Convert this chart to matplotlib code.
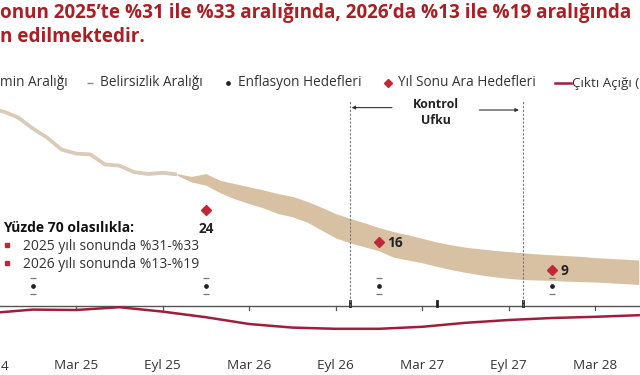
import numpy as np
import matplotlib
matplotlib.use("Agg")
import matplotlib.pyplot as plt
from matplotlib.lines import Line2D

plt.rcParams['font.family'] = ['Open Sans', 'DejaVu Sans']

# ---------------- DATA ----------------
# month index: 0 = Eyl 24 (Sep 2024)
hist_months = [0, 1, 2, 3, 4, 5, 6, 7, 8, 9, 10, 11, 12, 13]
hist_infl = [49.4, 48.6, 47.1, 44.4, 42.1, 39.1, 38.1, 37.9, 35.4, 35.1, 33.5, 33.0, 33.3, 32.9]

band_months = list(range(13, 46))
band_top = [33.1, 32.4, 33.1, 31.4, 30.6, 29.8, 29.0, 28.1, 27.4, 26.2, 24.7, 23.1,
            21.9, 20.8, 19.6, 18.6, 17.8, 16.9, 16.0, 15.3, 14.7, 14.3, 13.9, 13.6,
            13.3, 13.0, 12.8, 12.6, 12.4, 12.1, 11.9, 11.7, 11.5]
band_bot = [32.7, 31.0, 30.2, 28.3, 26.8, 25.6, 24.5, 23.1, 22.3, 21.0, 19.0, 17.0,
            15.8, 14.8, 13.8, 12.2, 11.5, 10.8, 9.9, 9.1, 8.4, 7.8, 7.3, 6.9,
            6.6, 6.5, 6.4, 6.2, 6.1, 6.0, 5.8, 5.6, 5.4]

target_months = [3, 15, 27, 39]
target_value = [5, 5, 5, 5]
target_low = [3, 3, 3, 3]
target_high = [7, 7, 7, 7]

interim_months = [15, 27, 39]
interim_values = [24, 16, 9]

gap_months = [0, 3, 6, 9, 12, 15, 18, 21, 24, 27, 30, 33, 36, 39, 42, 45]
output_gap = [-0.9, -0.45, -0.5, -0.15, -0.7, -1.4, -2.25, -2.7, -2.85, -2.85,
              -2.6, -2.1, -1.75, -1.5, -1.35, -1.15]

tick_months = [6, 12, 18, 24, 30, 36, 42]
tick_labels = ["Mar 25", "Eyl 25", "Mar 26", "Eyl 26", "Mar 27", "Eyl 27", "Mar 28"]
first_label_visible = "4"  # visible remainder of "Eyl 24" at the left edge
horizon_months = [25, 37]
horizon_mid = 31

# ---------------- STYLE ----------------
BAND = '#d7c1a2'
HIST = '#dacab7'
RED = '#c0283a'
GAP = '#a11d3b'
TITLE = '#a81f26'
TXT = '#333333'
LEG_FS = 9.8

W, H = 640, 375
fig = plt.figure(figsize=(6.4, 3.75), dpi=100)
ax = fig.add_axes([0, 30 / H, 1, 345 / H])
ax.set_xlim(0.735, 45.09)
ax.set_ylim(-9.75, 76.5)
for s in ax.spines.values():
    s.set_visible(False)
ax.set_yticks([])

# band and history
ax.fill_between(band_months, band_bot, band_top, color=BAND, lw=0, zorder=2)
ax.plot(hist_months, hist_infl, color=HIST, lw=2.7, zorder=2, solid_capstyle='butt')

# zero axis
ax.axhline(0, color='#555555', lw=1.0, zorder=3)
for m in tick_months:
    ax.plot([m, m], [0, -1.1], color='#555555', lw=0.9, zorder=3)
for m in horizon_months + [horizon_mid]:
    ax.plot([m, m], [0, 1.3], color='#222222', lw=2.0, zorder=3)

# control horizon
for m in horizon_months:
    ax.plot([m, m], [0, 51.2], color='#777777', lw=0.8, ls=(0, (2, 1.5)), zorder=3)
ax.text(horizon_mid - 0.05, 48.4, "Kontrol\nUfku", ha='center', va='center',
        fontsize=8.9, fontweight='bold', color='#222222', linespacing=1.25)
ax.annotate("", xy=(horizon_months[0] + 0.1, 49.6), xytext=(27.9, 49.6),
            arrowprops=dict(arrowstyle='-|>', color='#333333', lw=0.8,
                            mutation_scale=5, shrinkA=0, shrinkB=0))
ax.annotate("", xy=(horizon_months[1] - 0.3, 49.0), xytext=(33.95, 49.0),
            arrowprops=dict(arrowstyle='-|>', color='#333333', lw=0.8,
                            mutation_scale=5, shrinkA=0, shrinkB=0))

# targets
ax.plot(target_months, target_value, ls='none', marker='o', ms=2.4, color='#222222', zorder=4)
ax.plot(target_months, target_low, ls='none', marker='_', ms=4, mew=0.9, color='#777777', zorder=4)
ax.plot(target_months, target_high, ls='none', marker='_', ms=4, mew=0.9, color='#777777', zorder=4)

# interim targets
ax.plot(interim_months, interim_values, ls='none', marker='D', ms=4.6, color=RED, zorder=5)
ax.annotate(str(interim_values[0]), (interim_months[0], interim_values[0]),
            xytext=(0, -14), textcoords='offset points', ha='center', va='center',
            fontsize=9.8, fontweight='bold', color='#222222')
for m, v in zip(interim_months[1:], interim_values[1:]):
    ax.annotate(str(v), (m, v), xytext=(6.2, -1), textcoords='offset points',
                ha='left', va='center', fontsize=9.8, fontweight='bold', color='#222222')

# output gap on right axis
ax2 = ax.twinx()
ax2.set_ylim(-9.75 * 0.5, 76.5 * 0.5)
ax2.set_xlim(ax.get_xlim())
for s in ax2.spines.values():
    s.set_visible(False)
ax2.set_yticks([])
ax2.plot(gap_months, output_gap, color=GAP, lw=1.8, zorder=4)

# x tick labels
ax.set_xticks(tick_months)
ax.set_xticklabels(tick_labels)
ax.tick_params(axis='x', length=0, pad=10.3, labelsize=9.7, labelcolor=TXT)
ax.text(1 / W, 1 - 366.5 / H, first_label_visible, transform=fig.transFigure,
        ha='left', va='center', fontsize=9.7, color=TXT)

# probability note
ax.text(0.005, 1 - 228 / H, "Yüzde 70 olasılıkla:", transform=fig.transFigure,
        fontsize=10, fontweight='bold', color='#111111', va='center', ha='left')
for yy, t in [(246.5, "2025 yılı sonunda %31-%33"), (265, "2026 yılı sonunda %13-%19")]:
    fig.add_artist(Line2D([7 / W], [1 - (yy - 2) / H], marker='s', ms=2.8, color=RED,
                          ls='none', transform=fig.transFigure))
    fig.text(23 / W, 1 - yy / H, t, fontsize=10, color=TXT, va='center', ha='left')

# legend (manual)
ly = 1 - 83 / H
fig.text(0, ly, "min Aralığı", fontsize=LEG_FS, color=TXT, va='center', ha='left')
fig.add_artist(Line2D([90 / W], [ly], marker='_', ms=4, mew=1.0, color='#888888',
                      ls='none', transform=fig.transFigure))
fig.text(100 / W, ly, "Belirsizlik Aralığı", fontsize=LEG_FS, color=TXT, va='center', ha='left')
fig.add_artist(Line2D([228 / W], [ly], marker='o', ms=2.4, color='#222222',
                      ls='none', transform=fig.transFigure))
fig.text(238 / W, ly, "Enflasyon Hedefleri", fontsize=LEG_FS, color=TXT, va='center', ha='left')
fig.add_artist(Line2D([388 / W], [ly], marker='D', ms=4.2, color=RED,
                      ls='none', transform=fig.transFigure))
fig.text(398 / W, ly, "Yıl Sonu Ara Hedefleri", fontsize=LEG_FS, color=TXT, va='center', ha='left')
fig.add_artist(Line2D([555 / W, 571 / W], [ly, ly], lw=1.8, color=GAP,
                      transform=fig.transFigure))
fig.text(572 / W, ly, "Çıktı Açığı (", fontsize=9.6, color=TXT, va='center', ha='left')

# title
fig.text(0, 1 - 13 / H, "onun 2025’te %31 ile %33 aralığında, 2026’da %13 ile %19 aralığında",
         fontsize=13.6, fontweight='bold', color=TITLE, va='center', ha='left')
fig.text(0, 1 - 37 / H, "n edilmektedir.",
         fontsize=13.6, fontweight='bold', color=TITLE, va='center', ha='left')

fig.savefig("out.png", dpi=100)
